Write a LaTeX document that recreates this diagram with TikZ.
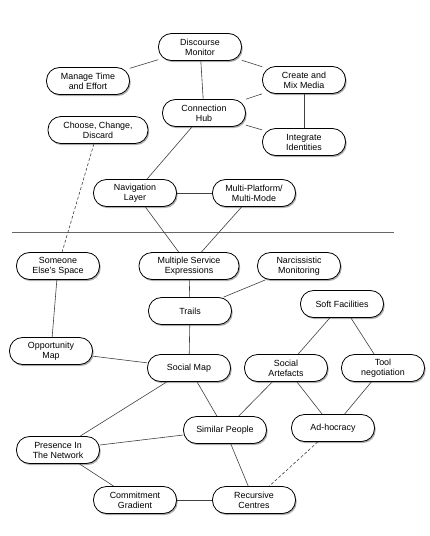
\documentclass[tikz,border=0pt]{standalone}
\usepackage{fontspec}
\setmainfont{Liberation Sans}
\usetikzlibrary{shadows}
\begin{document}
\begin{tikzpicture}[x=1pt,y=-1pt,
  pill/.style={draw=black, line width=0.8pt, fill=white, rounded corners=13pt,
    minimum width=83pt, minimum height=27pt, inner sep=2pt, align=center,
    font=\fontsize{8.9}{10}\selectfont,
    drop shadow={shadow xshift=1.2pt, shadow yshift=-1.6pt, opacity=0.45, fill=black!70}},
  wide/.style={minimum width=100pt},
  link/.style={draw=black!75, line width=0.6pt},
  dlink/.style={link, dashed, dash pattern=on 3pt off 2pt}]
\useasboundingbox (0,0) rectangle (429,536);
\fill[white] (0,0) rectangle (429,536);
% separator
\coordinate (sepL) at (12,232);
\coordinate (sepR) at (394,232);
\draw[draw=black!60, line width=0.6pt] (sepL) -- (sepR);
% nodes
\node[pill] (dm) at (200,47) {Discourse\\Monitor};
\node[pill] (mt) at (88,81) {Manage Time\\and Effort};
\node[pill] (cm) at (304,80) {Create and\\Mix Media};
\node[pill] (ch) at (204,113) {Connection\\Hub};
\node[pill,wide] (ccd) at (98,130) {Choose, Change,\\Discard};
\node[pill] (ii) at (304,142) {Integrate\\Identities};
\node[pill] (nl) at (135,193) {Navigation\\Layer};
\node[pill] (mp) at (254,193) {Multi-Platform/\\Multi-Mode};
\node[pill] (se) at (58,266) {Someone\\Else's Space};
\node[pill,wide] (ms) at (189,266) {Multiple Service\\Expressions};
\node[pill] (nm) at (299,266) {Narcissistic\\Monitoring};
\node[pill] (sf) at (342,304) {Soft Facilities};
\node[pill] (tr) at (190,311) {Trails};
\node[pill] (om) at (51,351) {Opportunity\\Map};
\node[pill] (sm) at (189,368) {Social Map};
\node[pill] (sa) at (286,368) {Social\\Artefacts};
\node[pill] (tn) at (383,368) {Tool\\negotiation};
\node[pill] (sp) at (225,430) {Similar People};
\node[pill] (ah) at (333,428) {Ad-hocracy};
\node[pill] (pn) at (58,450) {Presence In\\The Network};
\node[pill] (cg) at (135,500) {Commitment\\Gradient};
\node[pill] (rc) at (254,500) {Recursive\\Centres};
% connectors
\path[link] (dm) -- (mt);
\path[link] (dm) -- (cm);
\path[link] (dm) -- (ch);
\path[link] (ch) -- (cm);
\path[link] (ch) -- (ii);
\path[link] (cm) -- (ii);
\path[link] (ch) -- (nl);
\path[link] (nl) -- (mp);
\path[link] (nl) -- (ms);
\path[link] (mp) -- (ms);
\path[dlink] (ccd) -- (se);
\path[link] (se) -- (om);
\path[link] (ms) -- (tr);
\path[link] (nm) -- (tr);
\path[link] (tr) -- (sm);
\path[link] (om) -- (sm);
\path[link] (sf) -- (sa);
\path[link] (sf) -- (tn);
\path[link] (sm) -- (pn);
\path[link] (sm) -- (sp);
\path[link] (sa) -- (sp);
\path[link] (sa) -- (ah);
\path[link] (tn) -- (ah);
\path[link] (pn) -- (sp);
\path[link] (pn) -- (cg);
\path[link] (cg) -- (rc);
\path[link] (sp) -- (rc);
\path[dlink] (ah) -- (rc);
\end{tikzpicture}
\end{document}
